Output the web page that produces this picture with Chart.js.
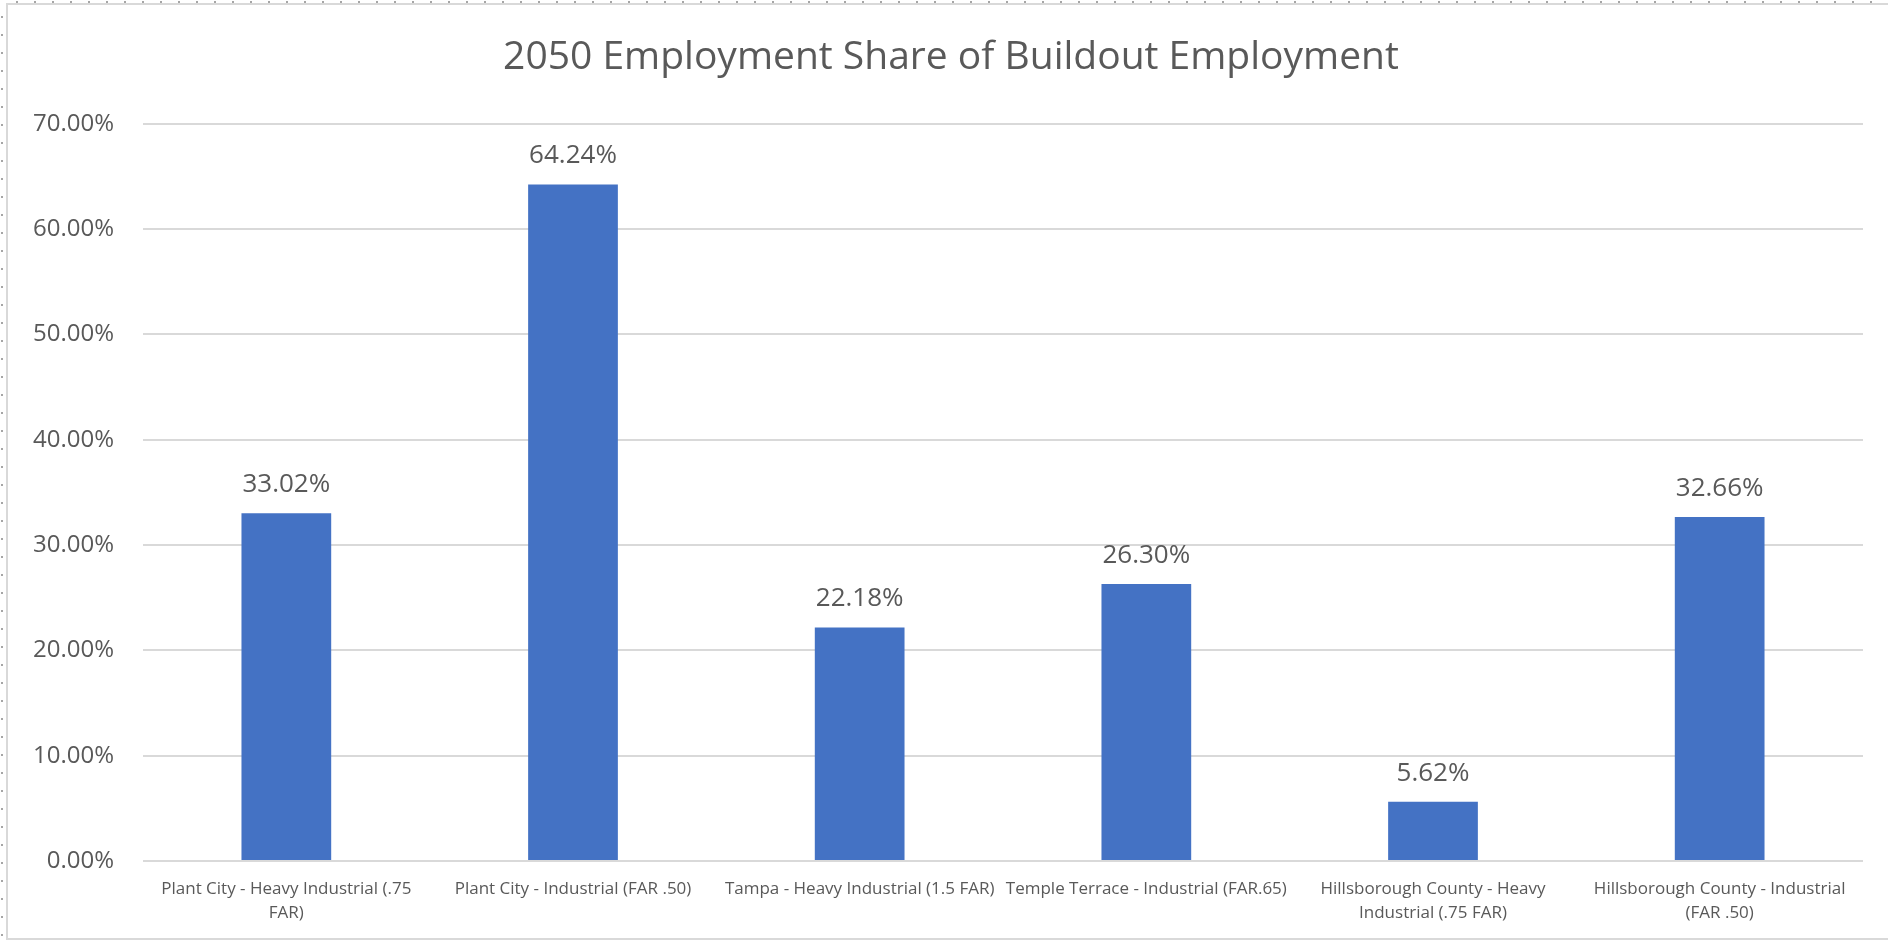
<!DOCTYPE html>
<html>
<head>
<meta charset="utf-8">
<title>2050 Employment Share of Buildout Employment</title>
<script src="https://cdn.jsdelivr.net/npm/chart.js@4"></script>
<style>
  html, body { margin: 0; padding: 0; background: #fff; overflow: hidden; }
  body { width: 1888px; height: 941px; position: relative; }
  .dots-left { position: absolute; left: 1px; top: 0; width: 2px; height: 941px;
    background: repeating-linear-gradient(to bottom, transparent 0 16px, #a6a6a6 16px 18px); }
  .dots-top { position: absolute; left: 0; top: 1px; height: 2px; width: 1888px;
    background: repeating-linear-gradient(to right, transparent 0 16px, #a6a6a6 16px 18px); }
  .frame { position: absolute; left: 6px; top: 3px; width: 1900px; height: 937px;
    box-sizing: border-box; border: 2px solid #d9d9d9; }
  .wrap { position: absolute; left: 9px; top: 6px; width: 1873px; height: 931px; }
</style>
</head>
<body>
<div class="dots-left"></div>
<div class="dots-top"></div>
<div class="frame"></div>
<div class="wrap"><canvas id="shareChart"></canvas></div>
<script>
// data
const categories = [
  ['Plant City - Heavy Industrial (.75', 'FAR)'],
  'Plant City - Industrial (FAR .50)',
  'Tampa - Heavy Industrial (1.5 FAR)',
  'Temple Terrace - Industrial (FAR.65)',
  ['Hillsborough County - Heavy', 'Industrial (.75 FAR)'],
  ['Hillsborough County - Industrial', '(FAR .50)']
];
const shares = [33.02, 64.24, 22.18, 26.30, 5.62, 32.66];
const yTicks = [0, 10, 20, 30, 40, 50, 60, 70];

const textColor = '#595959';
const gridColor = '#d9d9d9';

// value labels above each bar (no datalabels plugin available offline)
const valueLabels = {
  id: 'valueLabels',
  afterLayout(chart) {
    // title in the reference sits a bit right of the canvas centre
    if (chart.titleBlock) chart.titleBlock.left += 30;
  },
  afterDatasetsDraw(chart) {
    const ctx = chart.ctx;
    const meta = chart.getDatasetMeta(0);
    ctx.save();
    ctx.font = '26px "Open Sans"';
    ctx.fillStyle = textColor;
    ctx.textAlign = 'center';
    ctx.textBaseline = 'alphabetic';
    meta.data.forEach((bar, i) => {
      ctx.fillText(shares[i].toFixed(2) + '%', bar.x, bar.y - 21);
    });
    ctx.restore();
  }
};

const ctx = document.getElementById('shareChart').getContext('2d');
const shareChart = new Chart(ctx, {
  type: 'bar',
  data: {
    labels: categories,
    datasets: [{
      label: 'Share',
      data: shares,
      backgroundColor: '#4472c4',
      borderWidth: 0,
      categoryPercentage: 1,
      barPercentage: 0.313
    }]
  },
  options: {
    responsive: true,
    maintainAspectRatio: false,
    animation: false,
    layout: { padding: { left: 0, right: 19, top: 0, bottom: 0 } },
    plugins: {
      legend: { display: false },
      tooltip: { enabled: false },
      title: {
        display: true,
        text: '2050 Employment Share of Buildout Employment',
        color: textColor,
        font: { family: 'Open Sans', size: 39, weight: 'normal', lineHeight: 1.2 },
        padding: { top: 28, bottom: 43 }
      }
    },
    scales: {
      x: {
        border: { display: false },
        grid: { display: false, drawTicks: false },
        ticks: {
          color: textColor,
          font: { family: 'Open Sans', size: 17, lineHeight: 1.4 },
          padding: 16,
          autoSkip: false,
          maxRotation: 0,
          minRotation: 0
        },
        afterFit(scale) { scale.height = 76; }
      },
      y: {
        min: 0,
        max: 70,
        border: { display: false },
        grid: { color: gridColor, lineWidth: 2, drawTicks: false },
        afterBuildTicks(scale) { scale.ticks = yTicks.map(v => ({ value: v })); },
        ticks: {
          color: textColor,
          font: { family: 'Open Sans', size: 24 },
          padding: 29,
          callback: v => v.toFixed(2) + '%'
        },
        afterFit(scale) { scale.width = 134; }
      }
    }
  },
  plugins: [valueLabels]
});
</script>
</body>
</html>
